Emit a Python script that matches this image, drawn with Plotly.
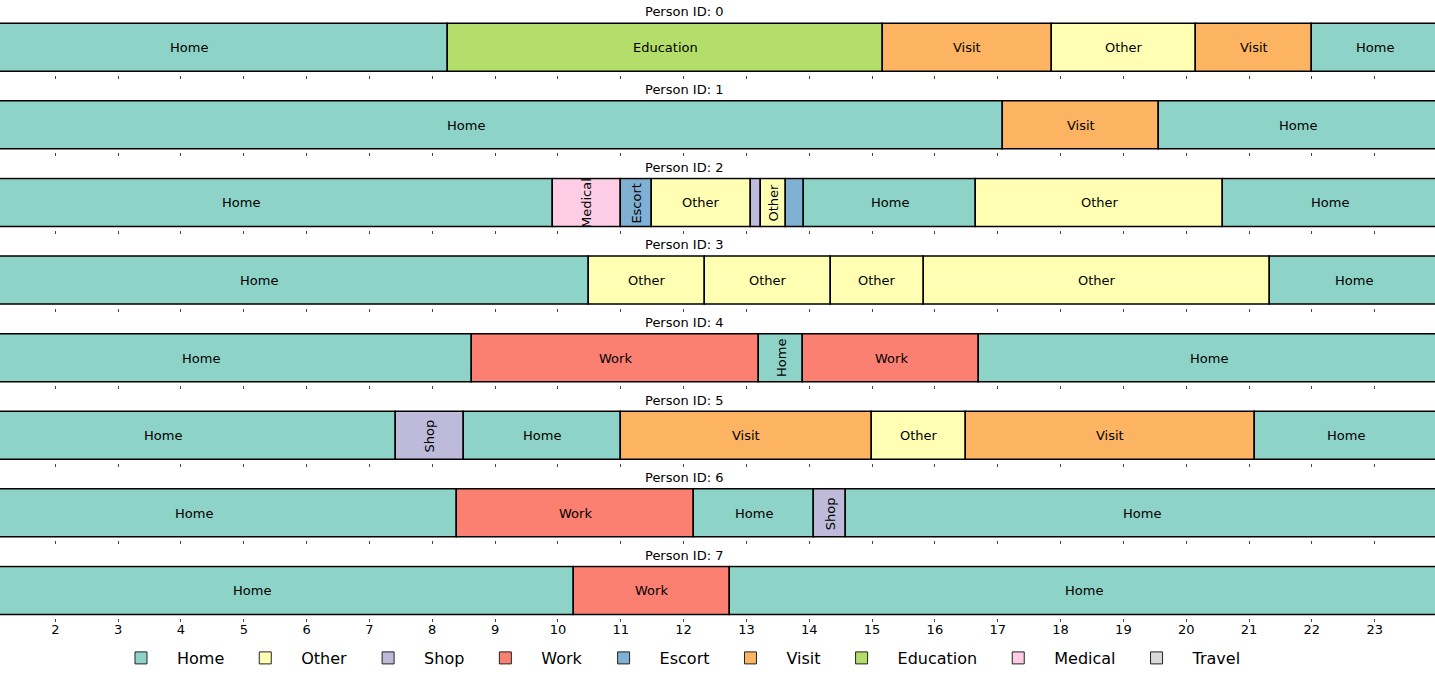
import plotly.graph_objects as go

# ---------------- data ----------------
categories = ["Home", "Other", "Shop", "Work", "Escort", "Visit", "Education", "Medical", "Travel"]
colors = ["#8dd3c7", "#ffffb3", "#bebada", "#fb8072", "#80b1d3", "#fdb462", "#b3de69", "#fccde5", "#d9d9d9"]

person_ids = [0, 1, 2, 3, 4, 5, 6, 7]

# activity sequence and end hour of each activity (each day starts at hour 0)
acts_0 = ["Home", "Education", "Visit", "Other", "Visit", "Home"]
ends_0 = [8.25, 15.17, 17.86, 20.16, 22.0, 24.0]
acts_1 = ["Home", "Visit", "Home"]
ends_1 = [17.08, 19.57, 24.0]
acts_2 = ["Home", "Medical", "Escort", "Other", "Shop", "Other", "Escort", "Home", "Other", "Home"]
ends_2 = [9.92, 11.01, 11.50, 13.07, 13.24, 13.63, 13.91, 16.66, 20.58, 24.0]
acts_3 = ["Home", "Other", "Other", "Other", "Other", "Home"]
ends_3 = [10.49, 12.34, 14.34, 15.83, 21.33, 24.0]
acts_4 = ["Home", "Work", "Home", "Work", "Home"]
ends_4 = [8.63, 13.20, 13.90, 16.71, 24.0]
acts_5 = ["Home", "Shop", "Home", "Visit", "Other", "Visit", "Home"]
ends_5 = [7.42, 8.50, 11.00, 15.00, 16.49, 21.09, 24.0]
acts_6 = ["Home", "Work", "Home", "Shop", "Home"]
ends_6 = [8.40, 12.17, 14.08, 14.58, 24.0]
acts_7 = ["Home", "Work", "Home"]
ends_7 = [10.25, 12.74, 24.0]

all_acts = [acts_0, acts_1, acts_2, acts_3, acts_4, acts_5, acts_6, acts_7]
all_ends = [ends_0, ends_1, ends_2, ends_3, ends_4, ends_5, ends_6, ends_7]

tick_vals = list(range(2, 24))
tick_text = [str(v) for v in tick_vals]

# ---------------- layout geometry (pixels) ----------------
W, H = 1435, 682
BAR_TOP0 = 23.5
BAR_H = 48.3
PITCH = 77.6
PAD_TOP = 1.5
PAD_BOT = 3.0
X_RANGE = [1.12, 23.96]

color_of = dict(zip(categories, colors))
fig = go.Figure()
n = len(person_ids)

layout_axes = {}
annotations = []
for i, pid in enumerate(person_ids):
    k = "" if i == 0 else str(i + 1)
    xa, ya = "x" + k, "y" + k
    top = BAR_TOP0 + PITCH * i
    bot = top + BAR_H
    d_top = 1 - (top - PAD_TOP) / H
    d_bot = 1 - (bot + PAD_BOT) / H
    layout_axes["xaxis" + k] = dict(
        domain=[0, 1], range=X_RANGE, anchor=ya,
        tickmode="array", tickvals=tick_vals, ticktext=tick_text,
        ticks="outside", ticklen=3, tickwidth=1, tickcolor="#444",
        showticklabels=(i == n - 1), showgrid=False, zeroline=False, showline=False,
        tickfont=dict(family="DejaVu Sans", size=13, color="#000"),
        ticklabelstandoff=-4,
        matches=None if i == 0 else "x",
    )
    layout_axes["yaxis" + k] = dict(
        domain=[d_bot, d_top],
        range=[-0.5 - PAD_BOT / BAR_H, 0.5 + PAD_TOP / BAR_H],
        anchor=xa, showticklabels=False, showgrid=False, zeroline=False,
        showline=False, ticks="", fixedrange=True,
    )
    start = 0.0
    for act, end in zip(all_acts[i], all_ends[i]):
        dur = end - start
        fig.add_trace(go.Bar(
            x=[dur], base=[start], y=[0], orientation="h", width=1,
            marker=dict(color=color_of[act], line=dict(color="#000", width=1.5)),
            xaxis=xa, yaxis=ya, showlegend=False, legendgroup=act,
            hovertemplate=f"Person {pid}<br>{act}: %{{base:.2f}}–{end:.2f}<extra></extra>",
        ))
        if dur >= 0.3:
            annotations.append(dict(
                text=act, x=(start + end) / 2, xref=xa, y=0, yref=ya,
                showarrow=False, xanchor="center", yanchor="middle",
                textangle=0 if dur >= 1.2 else -90,
                font=dict(family="DejaVu Sans", size=13, color="#000"),
            ))
        start = end
    annotations.append(dict(
        text=f"Person ID: {pid}", x=12, xref=xa, y=1 - (top - 11.5) / H, yref="paper",
        showarrow=False, xanchor="center", yanchor="middle",
        font=dict(family="DejaVu Sans", size=13, color="#000"),
    ))

# legend entries
for cat, col in zip(categories, colors):
    fig.add_trace(go.Bar(
        x=[None], y=[None], orientation="h", name=cat, legendgroup=cat,
        marker=dict(color=col, line=dict(color="#222", width=1)),
        showlegend=True,
    ))

fig.update_layout(
    width=W, height=H,
    margin=dict(l=0, r=0, t=0, b=0),
    paper_bgcolor="white", plot_bgcolor="white",
    barmode="overlay", bargap=0,
    showlegend=True,
    legend=dict(
        orientation="h", x=676 / W, xanchor="center", y=1 - 658 / H, yanchor="middle",
        font=dict(family="DejaVu Sans", size=16, color="#000"),
        itemwidth=62, tracegroupgap=0, bgcolor="rgba(0,0,0,0)",
    ),
    annotations=annotations,
    font=dict(family="DejaVu Sans"),
    **layout_axes,
)

fig.write_html(
    "out.html",
    config={"displayModeBar": False},
    post_script="document.body.style.margin='0';document.body.style.overflow='hidden';",
)
